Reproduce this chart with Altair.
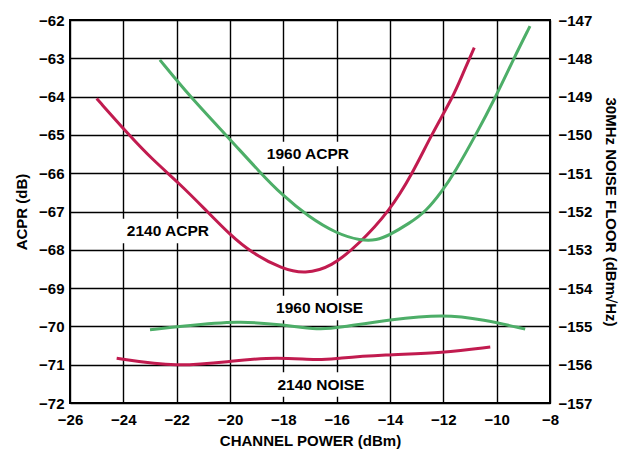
import altair as alt
import pandas as pd

# 2140 ACPR (left axis, dB)
acpr2140_x = [-25.0, -23.79, -22.9, -21.91, -20.91, -20.0, -19.19, -18.04, -17.19, -16.2, -15.17, -14.03, -13.15, -12.45, -11.63, -11.28, -10.84]
acpr2140_y = [-64.05, -65.0, -65.65, -66.26, -66.96, -67.61, -68.08, -68.5, -68.63, -68.45, -67.85, -67.0, -66.0, -65.0, -64.0, -63.42, -62.72]

# 1960 ACPR (left axis, dB)
acpr1960_x = [-22.63, -21.5, -20.06, -18.85, -18.04, -17.07, -16.0, -15.1, -14.5, -14.03, -13.28, -12.65, -12.03, -11.59, -10.78, -10.03, -9.34, -8.75]
acpr1960_y = [-63.04, -64.0, -65.07, -66.0, -66.57, -67.13, -67.58, -67.76, -67.75, -67.62, -67.31, -67.0, -66.45, -66.0, -65.0, -64.0, -62.98, -62.16]

# 1960 NOISE (right axis, dBm/rtHz)
noise1960_x = [-23.0, -21.88, -19.63, -18.0, -16.63, -15.99, -13.99, -11.99, -10.49, -8.93]
noise1960_y = [-155.09, -155.0, -154.85, -154.96, -155.09, -155.04, -154.82, -154.68, -154.82, -155.07]

# 2140 NOISE (right axis)
noise2140_x = [-24.25, -22.0, -19.88, -18.25, -16.63, -15.99, -14.24, -11.99, -10.24]
noise2140_y = [-155.83, -156.07, -155.9, -155.8, -155.89, -155.83, -155.74, -155.69, -155.54]

label_text = ["1960 ACPR", "2140 ACPR", "1960 NOISE", "2140 NOISE"]
label_x = [-17.08, -22.33, -16.64, -16.59]
label_y = [-65.50, -67.51, -69.52, -71.52]

RED = "#C11B4F"
GREEN = "#4DAE68"

acpr = pd.concat([
    pd.DataFrame({"x": acpr2140_x, "y": acpr2140_y, "s": "2140"}),
    pd.DataFrame({"x": acpr1960_x, "y": acpr1960_y, "s": "1960"}),
])
noise = pd.concat([
    pd.DataFrame({"x": noise2140_x, "y": noise2140_y, "s": "2140"}),
    pd.DataFrame({"x": noise1960_x, "y": noise1960_y, "s": "1960"}),
])
labels = pd.DataFrame({"t": label_text, "x": label_x, "y": label_y})

xscale = alt.Scale(domain=[-26, -8], nice=False, zero=False)
ylscale = alt.Scale(domain=[-72, -62], nice=False, zero=False)
yrscale = alt.Scale(domain=[-157, -147], nice=False, zero=False)
color = alt.Scale(domain=["2140", "1960"], range=[RED, GREEN])

xaxis = alt.Axis(title="CHANNEL POWER (dBm)", values=list(range(-26, -7, 2)),
                 labelPadding=9, titlePadding=6, grid=True, labelOverlap=False)
ylaxis = alt.Axis(title="ACPR (dB)", values=list(range(-72, -61)),
                  labelPadding=6, titlePadding=9, grid=True, labelOverlap=False)
yraxis = alt.Axis(title="30MHz NOISE FLOOR (dBm√Hz)", orient="right",
                  values=list(range(-157, -146)), labelPadding=8,
                  titlePadding=11, grid=False, labelOverlap=False)

boxes = alt.Chart(labels).transform_calculate(
    x1="datum.x - 1.85", x2="datum.x + 1.85",
    y1="datum.y - 0.32", y2="datum.y + 0.32",
).mark_rect(color="white").encode(
    x=alt.X("x1:Q", scale=xscale, axis=xaxis), x2="x2:Q",
    y=alt.Y("y1:Q", scale=ylscale, axis=ylaxis), y2="y2:Q",
)

acpr_lines = alt.Chart(acpr).mark_line(strokeWidth=3, interpolate="basis").encode(
    x=alt.X("x:Q", scale=xscale, axis=xaxis),
    y=alt.Y("y:Q", scale=ylscale, axis=ylaxis),
    color=alt.Color("s:N", scale=color, legend=None),
    detail="s:N",
)

texts = alt.Chart(labels).mark_text(
    font="Liberation Sans", fontWeight="bold", fontSize=15.5, color="black"
).encode(
    x=alt.X("x:Q", scale=xscale, axis=xaxis),
    y=alt.Y("y:Q", scale=ylscale, axis=ylaxis),
    text="t:N",
)

left = alt.layer(boxes, acpr_lines, texts)

noise_lines = alt.Chart(noise).mark_line(strokeWidth=3, interpolate="basis").encode(
    x=alt.X("x:Q", scale=xscale, axis=xaxis),
    y=alt.Y("y:Q", scale=yrscale, axis=yraxis),
    color=alt.Color("s:N", scale=color, legend=None),
    detail="s:N",
)

chart = alt.layer(left, noise_lines).resolve_scale(y="independent").properties(
    width=480, height=383,
    autosize=alt.AutoSizeParams(type="none"),
    padding={"left": 62, "top": 12, "right": 79, "bottom": 47},
).configure_view(
    stroke="black", strokeWidth=2
).configure_axis(
    domain=False, ticks=False, labelOverlap=False, labelBound=False, labelFlush=False,
    gridColor="black", gridWidth=1.4, gridOpacity=1,
    labelFont="Liberation Sans", labelFontWeight="bold", labelFontSize=15,
    labelColor="black",
    titleFont="Liberation Sans", titleFontWeight="bold", titleFontSize=15,
    titleColor="black",
)

chart.save("out.html", embed_options={"renderer": "svg", "actions": False})
